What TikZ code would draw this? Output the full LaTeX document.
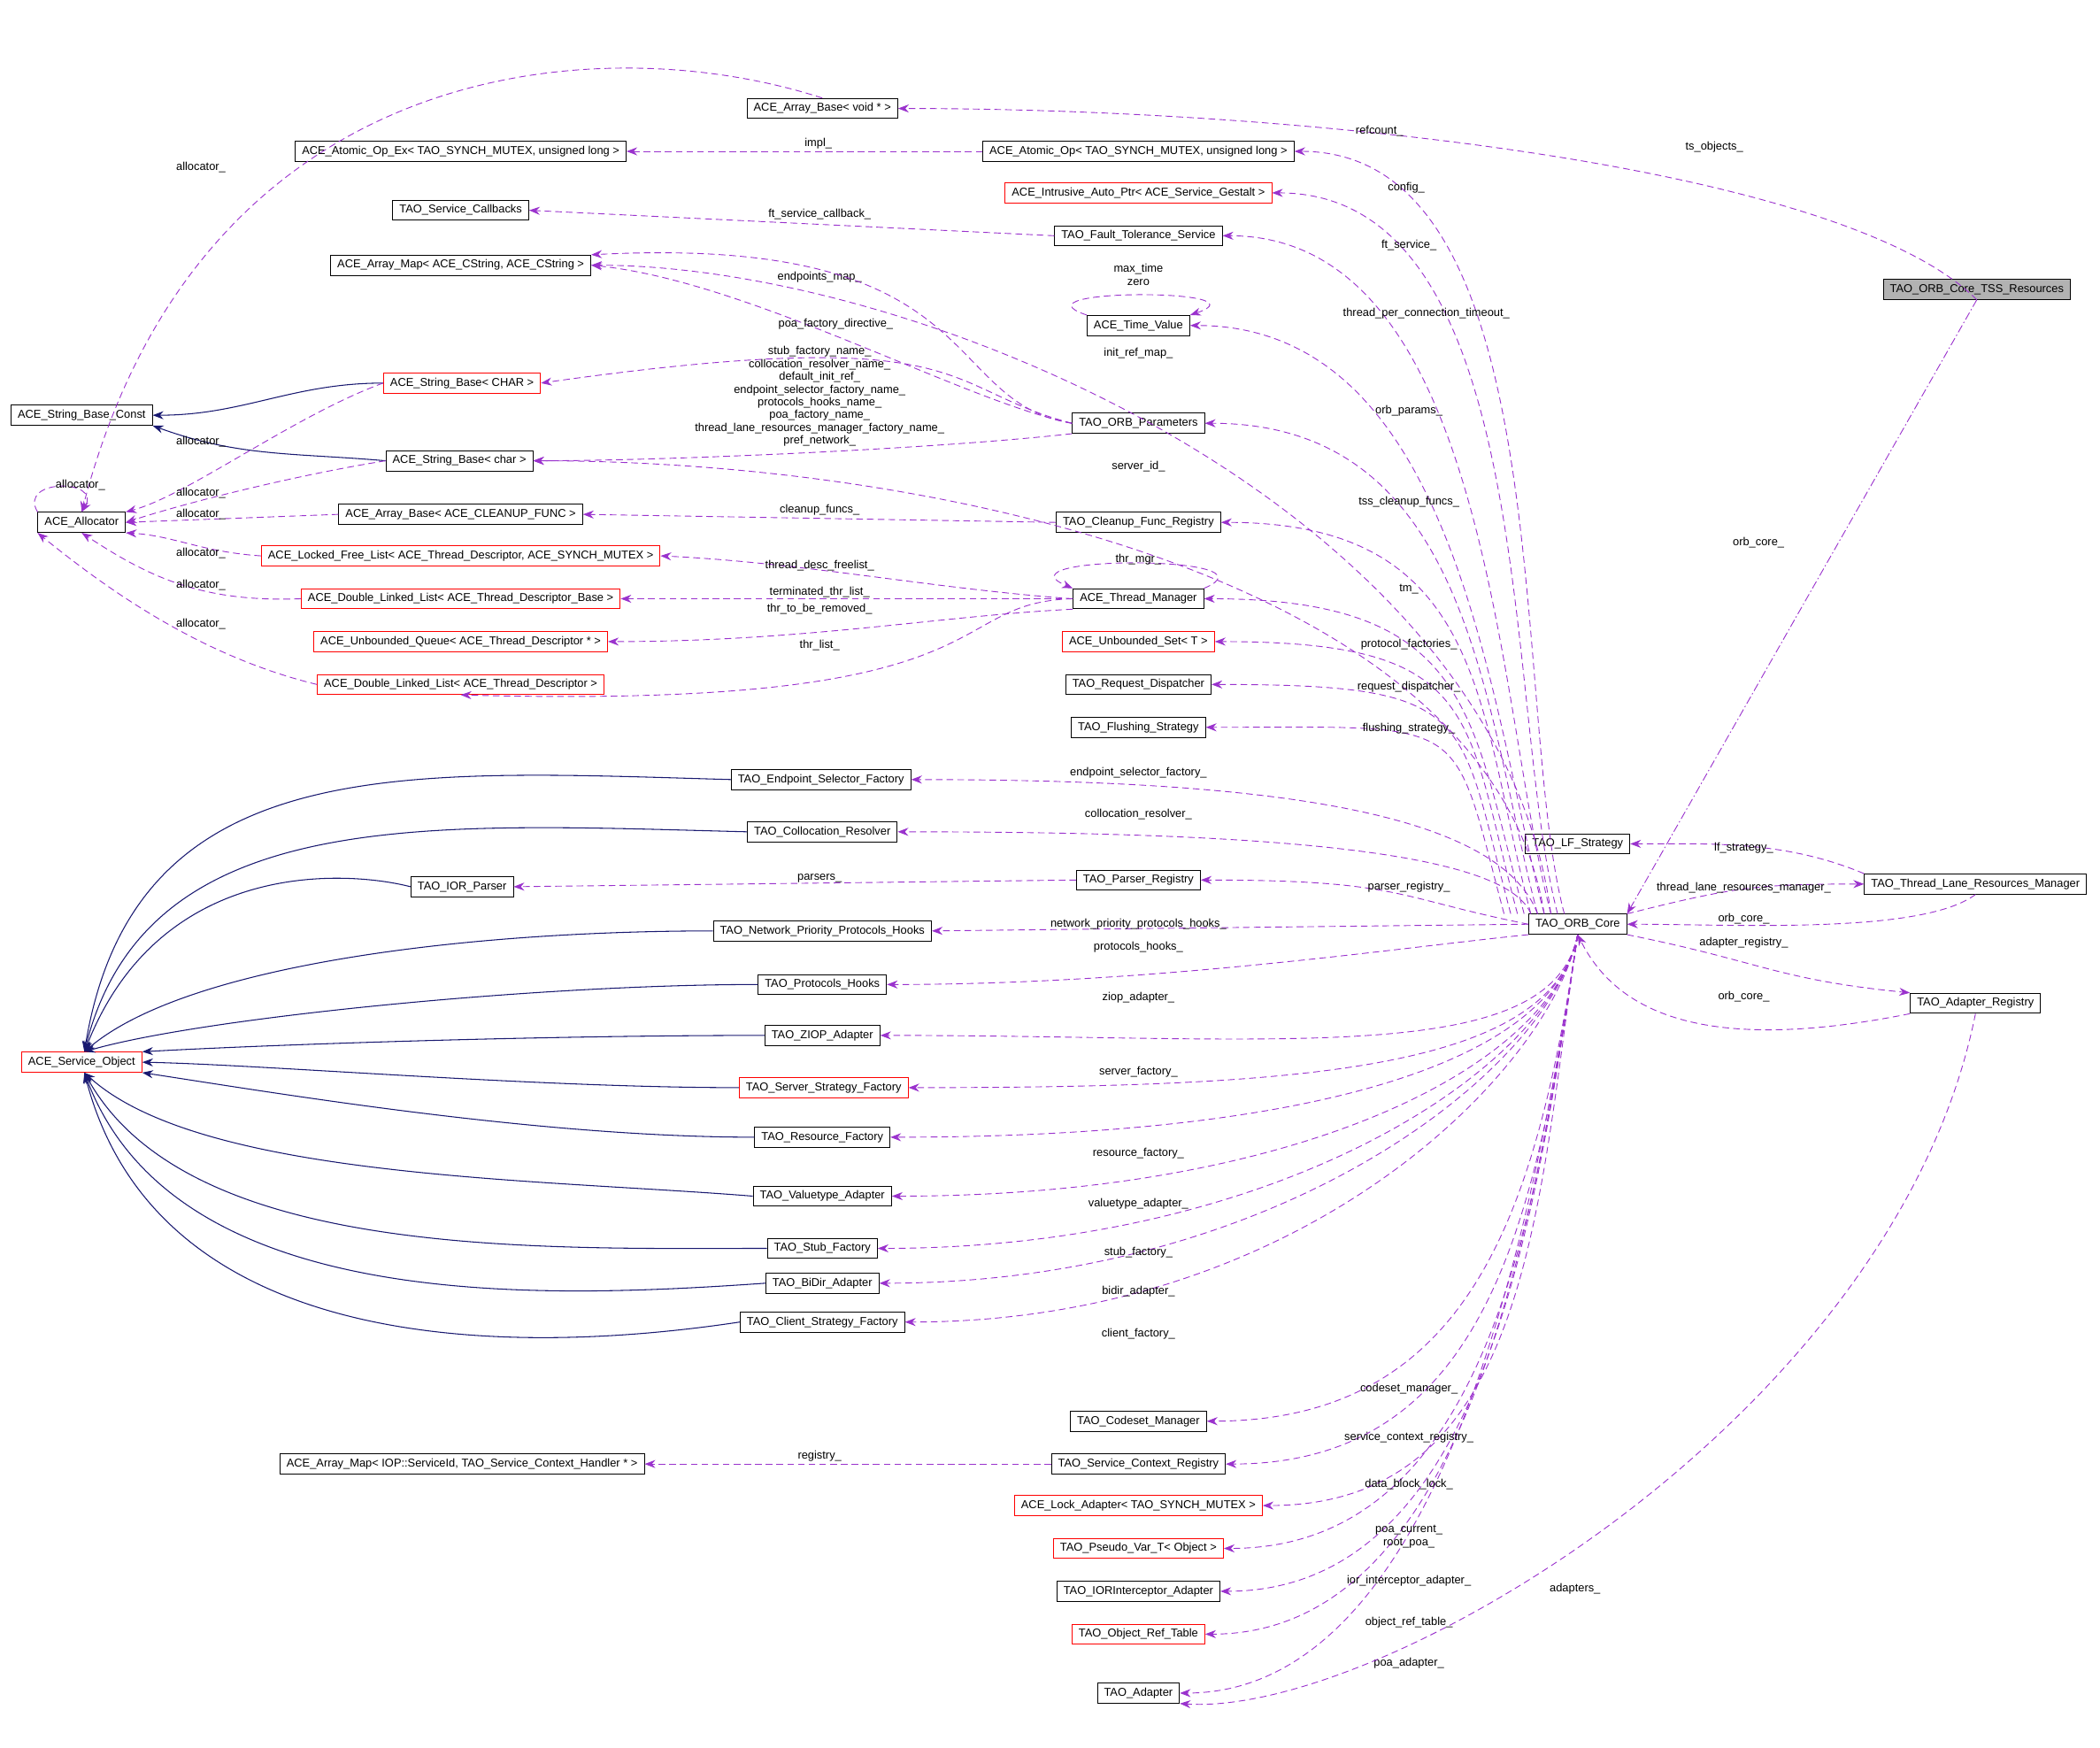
\documentclass[tikz,border=0pt]{standalone}
\usepackage{fontspec}
\setmainfont{Liberation Sans}
\usetikzlibrary{arrows.meta}
\definecolor{mpurple}{HTML}{9A32CD}
\definecolor{inh}{HTML}{191970}
\newcommand\lt{\textless}
\newcommand\gt{\textgreater}
\begin{document}
\begin{tikzpicture}[x=1pt,y=-1pt,font=\fontsize{8.5}{10}\selectfont,
 cls/.style={draw=black,fill=white,inner xsep=5pt,inner ysep=0pt,minimum height=15pt,line width=0.6pt},
 rcls/.style={cls,draw=red},
 gcls/.style={cls,fill=black!30},
 mem/.style={draw=mpurple,dashed,dash pattern=on 5pt off 3pt,line width=0.6pt,-{Stealth[length=8pt,width=6pt]}},
 inhe/.style={draw=inh,line width=0.7pt,-{Stealth[length=8pt,width=6pt]}},
 lbl/.style={inner sep=1pt,align=center}]
\useasboundingbox (0,0) rectangle (1568,1305);
% nodes
\node[cls] (abv) at (614,81) {ACE\_Array\_Base\lt{} void * \gt};
\node[cls] (aoex) at (344,113) {ACE\_Atomic\_Op\_Ex\lt{} TAO\_SYNCH\_MUTEX, unsigned long \gt};
\node[cls] (aop) at (850,113) {ACE\_Atomic\_Op\lt{} TAO\_SYNCH\_MUTEX, unsigned long \gt};
\node[rcls] (iap) at (850,144) {ACE\_Intrusive\_Auto\_Ptr\lt{} ACE\_Service\_Gestalt \gt};
\node[cls] (scb) at (344,157) {TAO\_Service\_Callbacks};
\node[cls] (fts) at (850,176) {TAO\_Fault\_Tolerance\_Service};
\node[cls] (amc) at (344,198) {ACE\_Array\_Map\lt{} ACE\_CString, ACE\_CString \gt};
\node[cls] (tv) at (850,243) {ACE\_Time\_Value};
\node[rcls] (sbC) at (345,286) {ACE\_String\_Base\lt{} CHAR \gt};
\node[cls] (sbconst) at (61,310) {ACE\_String\_Base\_Const};
\node[cls] (op) at (850,316) {TAO\_ORB\_Parameters};
\node[cls] (sbc) at (343,344) {ACE\_String\_Base\lt{} char \gt};
\node[cls] (alloc) at (61,390) {ACE\_Allocator};
\node[cls] (abcf) at (344,384) {ACE\_Array\_Base\lt{} ACE\_CLEANUP\_FUNC \gt};
\node[cls] (cfr) at (850,390) {TAO\_Cleanup\_Func\_Registry};
\node[rcls] (lfl) at (344,415) {ACE\_Locked\_Free\_List\lt{} ACE\_Thread\_Descriptor, ACE\_SYNCH\_MUTEX \gt};
\node[rcls] (dllb) at (344,447) {ACE\_Double\_Linked\_List\lt{} ACE\_Thread\_Descriptor\_Base \gt};
\node[cls] (tm) at (850,447) {ACE\_Thread\_Manager};
\node[rcls] (uq) at (344,479) {ACE\_Unbounded\_Queue\lt{} ACE\_Thread\_Descriptor * \gt};
\node[rcls] (us) at (850,479) {ACE\_Unbounded\_Set\lt{} T \gt};
\node[rcls] (dlld) at (344,511) {ACE\_Double\_Linked\_List\lt{} ACE\_Thread\_Descriptor \gt};
\node[cls] (rd) at (850,511) {TAO\_Request\_Dispatcher};
\node[cls] (fs) at (850,543) {TAO\_Flushing\_Strategy};
\node[cls] (esf) at (613,582) {TAO\_Endpoint\_Selector\_Factory};
\node[cls] (cr) at (614,621) {TAO\_Collocation\_Resolver};
\node[cls] (lfs) at (1178,630) {TAO\_LF\_Strategy};
\node[cls] (iorp) at (345,662) {TAO\_IOR\_Parser};
\node[cls] (pr) at (850,657) {TAO\_Parser\_Registry};
\node[cls] (tlrm) at (1475,660) {TAO\_Thread\_Lane\_Resources\_Manager};
\node[cls] (orb) at (1178,690) {TAO\_ORB\_Core};
\node[cls] (npph) at (614,695) {TAO\_Network\_Priority\_Protocols\_Hooks};
\node[cls] (ph) at (614,735) {TAO\_Protocols\_Hooks};
\node[cls] (ar) at (1475,749) {TAO\_Adapter\_Registry};
\node[cls] (ziop) at (614,773) {TAO\_ZIOP\_Adapter};
\node[rcls] (so) at (61,793) {ACE\_Service\_Object};
\node[rcls] (ssf) at (615,812) {TAO\_Server\_Strategy\_Factory};
\node[cls] (rf) at (614,849) {TAO\_Resource\_Factory};
\node[cls] (va) at (614,893) {TAO\_Valuetype\_Adapter};
\node[cls] (sf) at (614,932) {TAO\_Stub\_Factory};
\node[cls] (bda) at (614,958) {TAO\_BiDir\_Adapter};
\node[cls] (csf) at (614,987) {TAO\_Client\_Strategy\_Factory};
\node[cls] (csm) at (850,1061) {TAO\_Codeset\_Manager};
\node[cls] (amiop) at (345,1093) {ACE\_Array\_Map\lt{} IOP::ServiceId, TAO\_Service\_Context\_Handler * \gt};
\node[cls] (scr) at (850,1093) {TAO\_Service\_Context\_Registry};
\node[rcls] (la) at (850,1124) {ACE\_Lock\_Adapter\lt{} TAO\_SYNCH\_MUTEX \gt};
\node[rcls] (pv) at (850,1156) {TAO\_Pseudo\_Var\_T\lt{} Object \gt};
\node[cls] (iia) at (850,1188) {TAO\_IORInterceptor\_Adapter};
\node[rcls] (ort) at (850,1220) {TAO\_Object\_Ref\_Table};
\node[cls] (ad) at (850,1264) {TAO\_Adapter};
\node[gcls] (tss) at (1476,216) {TAO\_ORB\_Core\_TSS\_Resources};

% inheritance
\draw[inhe] (sbC.west) to[out=180,in=0] (sbconst.east);
\draw[inhe] (sbc.west) to[out=175,in=-20] (sbconst.south east);
\coordinate (soN) at ([xshift=2pt]so.north);
\coordinate (soS) at ([xshift=2pt]so.south);
\draw[inhe] (esf.west) .. controls (300,575) and (100,560) .. (soN);
\draw[inhe] (cr.west) .. controls (320,615) and (110,600) .. (soN);
\draw[inhe] (iorp.west) .. controls (260,650) and (120,640) .. (soN);
\draw[inhe] (npph.west) .. controls (350,695) and (140,720) .. (soN);
\draw[inhe] (ph.west) .. controls (400,735) and (150,760) .. (soN);
\draw[inhe] (ziop.west) .. controls (400,773) and (200,780) .. (so.north east);
\draw[inhe] (ssf.west) .. controls (400,812) and (200,795) .. (so.east);
\draw[inhe] (rf.west) .. controls (400,849) and (200,815) .. (so.south east);
\draw[inhe] (va.west) .. controls (400,880) and (150,880) .. (soS);
\draw[inhe] (sf.west) .. controls (400,932) and (140,940) .. (soS);
\draw[inhe] (bda.west) .. controls (400,970) and (130,980) .. (soS);
\draw[inhe] (csf.west) .. controls (400,1010) and (120,1020) .. (soS);

% members from TSS
\draw[mem] (tss.south) .. controls +(-100,-100) and +(300,0) .. (abv.east);
\node[lbl] at (1280,110) {ts\_objects\_};
\draw[mem,dash pattern=on 6pt off 2pt on 1pt off 2pt] (tss.south) -- (orb.north east);
\node[lbl] at (1313,405) {orb\_core\_};
\draw[mem] (abv.north) .. controls (450,20) and (150,40) .. (alloc.north);
\node[lbl] at (150,125) {allocator\_};
\draw[mem] (aop.west) -- (aoex.east); \node[lbl] at (611,107) {impl\_};
\draw[mem] (fts.west) -- (scb.east); \node[lbl] at (612,160) {ft\_service\_callback\_};
\draw[mem] (tv.north west) .. controls +(-60,-20) and +(60,-20) .. (tv.north east);
\node[lbl] at (850,205) {max\_time\\zero};
\draw[mem] (op.west) .. controls (720,300) and (560,210) .. (amc.east);
\node[lbl] at (612,207) {endpoints\_map\_};
\draw[mem] (op.west) .. controls (700,300) and (740,175) .. (amc.north east);
\draw[mem] (op.west) .. controls (700,290) and (730,240) .. (sbC.east);
\node[lbl] at (624,242) {poa\_factory\_directive\_};
\draw[mem] (op.south west) .. controls (700,335) and (500,344) .. (sbc.east);
\node[lbl,font=\fontsize{8.5}{9.5}\selectfont] at (612,296) {stub\_factory\_name\_\\collocation\_resolver\_name\_\\default\_init\_ref\_\\endpoint\_selector\_factory\_name\_\\protocols\_hooks\_name\_\\poa\_factory\_name\_\\thread\_lane\_resources\_manager\_factory\_name\_\\pref\_network\_};
\draw[mem] (sbC.west) .. controls (220,310) and (140,370) .. (alloc.north east);
\node[lbl] at (150,330) {allocator\_};
\draw[mem] (sbc.west) .. controls (220,355) and (140,375) .. (alloc.east);
\node[lbl] at (150,368) {allocator\_};
\draw[mem] (abcf.west) -- (alloc.east); \node[lbl] at (150,384) {allocator\_};
\draw[mem] (alloc.north west) .. controls +(-15,-25) and +(15,-25) .. (alloc.north);
\node[lbl] at (60,362) {allocator\_};
\draw[mem] (lfl.west) .. controls (150,412) and (130,400) .. (alloc.south east);
\node[lbl] at (150,413) {allocator\_};
\draw[mem] (dllb.west) .. controls (150,450) and (110,430) .. (alloc.south);
\node[lbl] at (150,437) {allocator\_};
\draw[mem] (dlld.west) .. controls (150,490) and (80,440) .. (alloc.south west);
\node[lbl] at (150,466) {allocator\_};
\draw[mem] (cfr.west) -- (abcf.east); \node[lbl] at (612,381) {cleanup\_funcs\_};
\draw[mem] (tm.west) .. controls (700,440) and (600,420) .. (lfl.east);
\node[lbl] at (612,422) {thread\_desc\_freelist\_};
\draw[mem] (tm.west) -- (dllb.east); \node[lbl] at (612,442) {terminated\_thr\_list\_};
\draw[mem] (tm.south west) .. controls (700,460) and (600,479) .. (uq.east);
\node[lbl] at (612,455) {thr\_to\_be\_removed\_};
\draw[mem] (tm.west) .. controls (700,450) and (760,530) .. (dlld.south);
\node[lbl] at (612,482) {thr\_list\_};
\draw[mem] (tm.north east) .. controls +(60,-25) and +(-60,-25) .. (tm.north west);
\node[lbl] at (850,418) {thr\_mgr\_};
\draw[mem] (pr.west) -- (iorp.east); \node[lbl] at (612,656) {parsers\_};
\draw[mem] (scr.west) -- (amiop.east); \node[lbl] at (612,1087) {registry\_};

% ORB core upward
\foreach \t/\k in {aop/-10,iap/-15,fts/-20,tv/-25,op/-30,cfr/-35,tm/-40,us/-45,rd/-50,fs/-55}
  \draw[mem] ([xshift=\k pt]orb.north) .. controls +(-40,-150) and +(200,0) .. (\t.east);
\draw[mem] ([xshift=-20pt]orb.north) .. controls +(-40,-300) and +(250,0) .. (amc.east);
\draw[mem] ([xshift=-25pt]orb.north) .. controls +(-40,-250) and +(300,0) .. (sbc.east);
\draw[mem] ([xshift=-30pt]orb.north) .. controls +(-30,-80) and +(250,0) .. (esf.east);
\draw[mem] ([xshift=-35pt]orb.north) .. controls +(-20,-50) and +(250,0) .. (cr.east);
\draw[mem] (orb.west) .. controls +(-100,-20) and +(150,0) .. (pr.east);
\draw[mem] (orb.west) -- (npph.east);
\draw[mem] (orb.south west) .. controls +(-100,10) and +(200,0) .. (ph.east);
\foreach \t in {ziop,ssf,rf,va,sf,bda,csf}
  \draw[mem] (orb.south) .. controls +(-20,100) and +(300,0) .. (\t.east);
\foreach \t in {csm,scr,la,pv,iia,ort,ad}
  \draw[mem] (orb.south) .. controls +(-30,200) and +(200,0) .. (\t.east);
\node[lbl] at (1030,98) {refcount\_};
\node[lbl] at (1050,140) {config\_};
\node[lbl] at (1052,183) {ft\_service\_};
\node[lbl] at (1065,234) {thread\_per\_connection\_timeout\_};
\node[lbl] at (850,264) {init\_ref\_map\_};
\node[lbl] at (1052,307) {orb\_params\_};
\node[lbl] at (850,348) {server\_id\_};
\node[lbl] at (1052,375) {tss\_cleanup\_funcs\_};
\node[lbl] at (1052,440) {tm\_};
\node[lbl] at (1052,481) {protocol\_factories\_};
\node[lbl] at (1052,513) {request\_dispatcher\_};
\node[lbl] at (1052,544) {flushing\_strategy\_};
\node[lbl] at (850,577) {endpoint\_selector\_factory\_};
\node[lbl] at (850,608) {collocation\_resolver\_};
\node[lbl] at (1052,662) {parser\_registry\_};
\node[lbl] at (850,690) {network\_priority\_protocols\_hooks\_};
\node[lbl] at (850,707) {protocols\_hooks\_};
\node[lbl] at (850,745) {ziop\_adapter\_};
\node[lbl] at (850,800) {server\_factory\_};
\node[lbl] at (850,861) {resource\_factory\_};
\node[lbl] at (850,899) {valuetype\_adapter\_};
\node[lbl] at (850,935) {stub\_factory\_};
\node[lbl] at (850,964) {bidir\_adapter\_};
\node[lbl] at (850,996) {client\_factory\_};
\node[lbl] at (1052,1037) {codeset\_manager\_};
\node[lbl] at (1052,1073) {service\_context\_registry\_};
\node[lbl] at (1052,1108) {data\_block\_lock\_};
\node[lbl] at (1052,1147) {poa\_current\_\\root\_poa\_};
\node[lbl] at (1052,1180) {ior\_interceptor\_adapter\_};
\node[lbl] at (1052,1211) {object\_ref\_table\_};
\node[lbl] at (1052,1242) {poa\_adapter\_};
% right side
\draw[mem] (tlrm.north west) .. controls +(-60,-25) and +(60,0) .. (lfs.east);
\node[lbl] at (1302,633) {lf\_strategy\_};
\draw[mem] (orb.north east) .. controls +(80,-20) and +(-80,0) .. (tlrm.west);
\node[lbl] at (1302,663) {thread\_lane\_resources\_manager\_};
\draw[mem] (tlrm.south) .. controls +(-40,30) and +(80,0) .. (orb.east);
\node[lbl] at (1302,686) {orb\_core\_};
\draw[mem] (orb.south east) .. controls +(100,20) and +(-100,-10) .. (ar.north west);
\node[lbl] at (1302,704) {adapter\_registry\_};
\draw[mem] (ar.south west) .. controls +(-150,30) and +(30,60) .. (orb.south);
\node[lbl] at (1302,744) {orb\_core\_};
\draw[mem] (ar.south) .. controls +(-60,300) and +(150,10) .. (ad.south east);
\node[lbl] at (1176,1186) {adapters\_};
\end{tikzpicture}
\end{document}
